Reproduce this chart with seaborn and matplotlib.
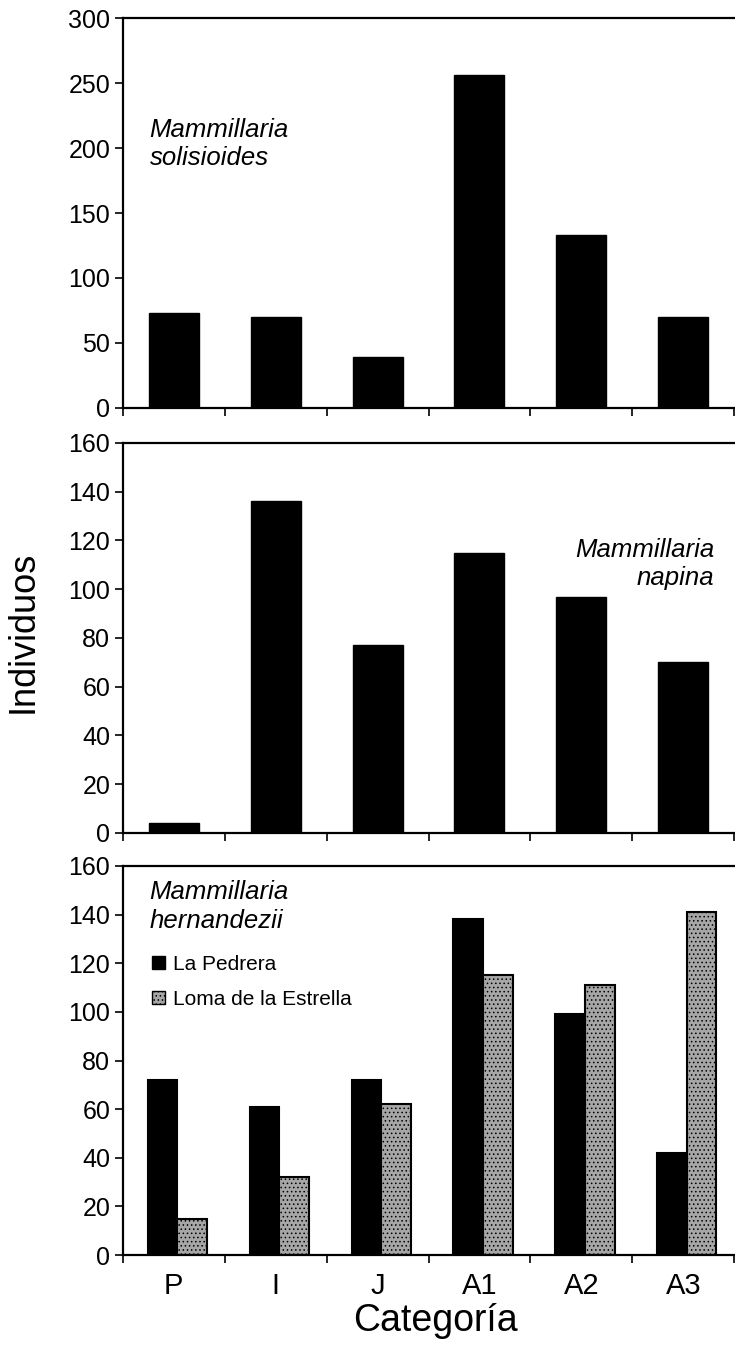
import matplotlib
matplotlib.use("Agg")
import matplotlib.pyplot as plt
import seaborn as sns
import pandas as pd
from matplotlib.patches import Patch

sns.set_style("white")
plt.rcParams['font.family'] = ['Liberation Sans', 'DejaVu Sans']
plt.rcParams['hatch.linewidth'] = 0.6
for k in ['text.color', 'axes.labelcolor', 'xtick.color', 'ytick.color', 'axes.edgecolor']:
    plt.rcParams[k] = 'black'

categories = ["P", "I", "J", "A1", "A2", "A3"]
solisioides = [73, 70, 39, 256, 133, 70]
napina = [4, 136, 77, 115, 97, 70]
pedrera = [72, 61, 72, 138, 99, 42]
estrella = [15, 32, 62, 115, 111, 141]
sites = ["La Pedrera", "Loma de la Estrella"]
gray = "#a6a6a6"

fig = plt.figure(figsize=(7.35, 13.58), dpi=100)
L, R = 0.167, 0.999
ax1 = fig.add_axes([L, 0.6996, R - L, 0.9867 - 0.6996])
ax2 = fig.add_axes([L, 0.3866, R - L, 0.6738 - 0.3866])
ax3 = fig.add_axes([L, 0.0758, R - L, 0.3623 - 0.0758])

sns.barplot(x=categories, y=solisioides, color="black", width=0.49,
            edgecolor="black", saturation=1, ax=ax1)
sns.barplot(x=categories, y=napina, color="black", width=0.49,
            edgecolor="black", saturation=1, ax=ax2)

df = pd.DataFrame({
    "cat": categories * 2,
    "val": pedrera + estrella,
    "site": [sites[0]] * 6 + [sites[1]] * 6,
})
sns.barplot(data=df, x="cat", y="val", hue="site", order=categories,
            hue_order=sites, palette={sites[0]: "black", sites[1]: gray},
            width=0.58, saturation=1, edgecolor="black", linewidth=1.5, ax=ax3)
for p in ax3.patches:
    fc = p.get_facecolor()
    if fc[0] > 0.5:
        p.set_hatch("....")
        p.set_edgecolor("black")
    p.set_x(p.get_x() + 0.035)

handles = [Patch(facecolor="black", edgecolor="black"),
           Patch(facecolor=gray, edgecolor="black", hatch="....")]
if ax3.get_legend() is not None:
    ax3.get_legend().remove()
ax3.legend(handles, sites, loc="upper left", bbox_to_anchor=(0.035, 0.793),
           frameon=False, fontsize=15, handlelength=0.6, handleheight=0.6,
           handletextpad=0.4, labelspacing=0.78, borderaxespad=0)

limits = [(0, 300, 50), (0, 160, 20), (0, 160, 20)]
for ax, (lo, hi, step) in zip([ax1, ax2, ax3], limits):
    ax.set_xlim(-0.5, 5.5)
    ax.set_ylim(lo, hi)
    ax.set_yticks(range(lo, hi + 1, step))
    ax.set_xticks([i - 0.5 for i in range(7)])
    ax.set_xticklabels([])
    ax.set_xticks(range(6), minor=True)
    ax.tick_params(axis="x", which="major", direction="out", length=6, width=1.2,
                   bottom=True)
    ax.tick_params(axis="x", which="minor", length=0, labelsize=21, pad=12)
    ax.tick_params(axis="y", direction="out", length=6, width=1.2, left=True,
                   labelsize=18, pad=3)
    for s in ["left", "bottom", "top"]:
        ax.spines[s].set_visible(True)
        ax.spines[s].set_linewidth(1.6)
        ax.spines[s].set_color("black")
    ax.spines["right"].set_visible(False)
    ax.set_xlabel("")
    ax.set_ylabel("")

ax1.set_xticklabels([], minor=True)
ax2.set_xticklabels([], minor=True)
ax3.set_xticklabels(categories, minor=True)

kw = dict(fontsize=18.5, style="italic", va="center", linespacing=1.25)
ax1.text(0.044, 0.677, "Mammillaria\nsolisioides", transform=ax1.transAxes,
         ha="left", **kw)
ax2.text(0.967, 0.69, "Mammillaria\nnapina", transform=ax2.transAxes,
         ha="right", **kw)
ax3.text(0.044, 0.895, "Mammillaria\nhernandezii", transform=ax3.transAxes,
         ha="left", **kw)

fig.text(0.032, 0.535, "Individuos", rotation=90, fontsize=26, va="center", ha="center")
fig.text(0.592, 0.027, "Categoría", fontsize=27, va="center", ha="center")

fig.savefig("out.png", dpi=100)
